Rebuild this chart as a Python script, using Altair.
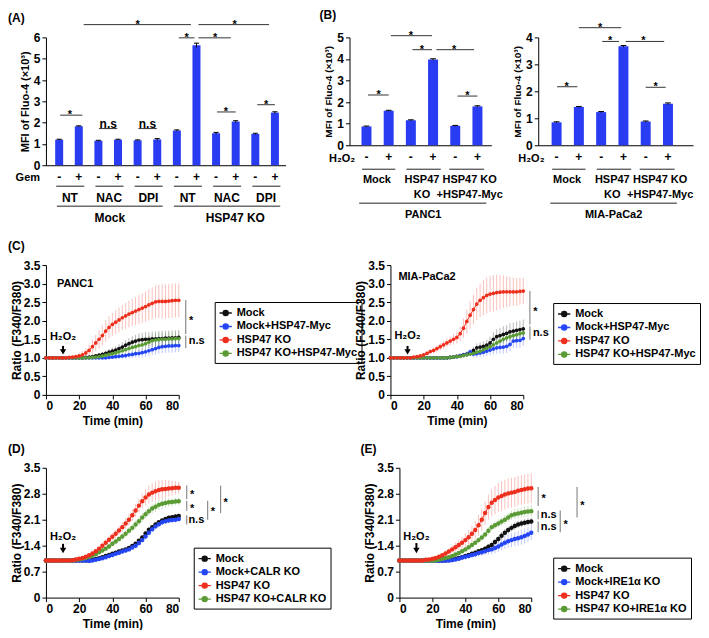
import altair as alt
import pandas as pd

FONT = "Liberation Sans"
BAR_BLUE = "#2a3cf2"
SIG_DARK = "#333333"
SIG_GRAY = "#8c8c8c"
SERIES_COLORS = ["#111111", "#2446f5", "#ee2f1d", "#5a9b35"]
SYM = "M-1,0L1,0M-0.42,0A0.42,0.42,0,1,1,0.42,0A0.42,0.42,0,1,1,-0.42,0Z"

# ------------------------------------------------------------------ data (A)
a_sign = ["-", "+", "-", "+", "-", "+", "-", "+", "-", "+", "-", "+"]
a_mfi = [1.20, 1.83, 1.15, 1.20, 1.17, 1.21, 1.63, 5.63, 1.50, 2.05, 1.47, 2.47]
a_sem = [0.02, 0.02, 0.02, 0.02, 0.02, 0.04, 0.03, 0.10, 0.04, 0.04, 0.03, 0.04]
a_treatment = ["NT", "NAC", "DPI", "NT", "NAC", "DPI"]
a_cell = ["Mock", "HSP47 KO"]

# ------------------------------------------------------------------ data (B)
b_sign = ["-", "+", "-", "+", "-", "+"]
b_group = ["Mock", "HSP47\nKO", "HSP47 KO\n+HSP47-Myc"]
b_panc1 = [0.87, 1.60, 1.16, 3.98, 0.90, 1.80]
b_panc1_sem = [0.02, 0.02, 0.02, 0.03, 0.02, 0.03]
b_mia = [0.85, 1.42, 1.23, 3.67, 0.88, 1.54]
b_mia_sem = [0.02, 0.02, 0.02, 0.03, 0.02, 0.03]

# ------------------------------------------------------------------ time course data
time_min = [0, 2, 4, 6, 8, 10, 12, 14, 16, 18, 20, 22, 24, 26, 28, 30, 32, 34, 36, 38, 40,
            42, 44, 46, 48, 50, 52, 54, 56, 58, 60, 62, 64, 66, 68, 70, 72, 74, 76, 78, 80]

c_names = ["Mock", "Mock+HSP47-Myc", "HSP47 KO", "HSP47 KO+HSP47-Myc"]
d_names = ["Mock", "Mock+CALR KO", "HSP47 KO", "HSP47 KO+CALR KO"]
e_names = ["Mock", "Mock+IRE1α KO", "HSP47 KO", "HSP47 KO+IRE1α KO"]

# (C) PANC1
cp_mock = [1.00, 1.00, 1.00, 1.00, 1.00, 1.00, 1.00, 1.00, 1.00, 1.00, 1.00, 1.00,
           1.01, 1.02, 1.03, 1.05, 1.07, 1.09, 1.12, 1.15, 1.18, 1.21, 1.25, 1.29, 1.34, 1.38, 1.42,
           1.45, 1.48, 1.49, 1.50, 1.50, 1.51, 1.51, 1.52, 1.52, 1.53, 1.53, 1.54, 1.54, 1.55]
cp_myc = [1.00, 1.00, 1.00, 1.00, 1.00, 1.00, 1.00, 1.00, 1.00, 1.00, 1.00, 1.00, 1.00, 1.00,
          1.00, 1.00, 1.00, 1.00,
          1.00, 1.01, 1.02, 1.03, 1.04, 1.05, 1.06, 1.08, 1.09, 1.11, 1.12, 1.14, 1.16, 1.19, 1.22,
          1.25, 1.28, 1.30, 1.31, 1.32, 1.32, 1.33, 1.33]
cp_ko = [1.00, 1.00, 1.00, 1.00, 1.00, 1.00, 1.00,
         1.01, 1.02, 1.03, 1.05, 1.08, 1.13, 1.20, 1.30, 1.40, 1.50, 1.60, 1.72, 1.82, 1.90, 1.96,
         2.02, 2.08, 2.13, 2.18, 2.22, 2.26, 2.30, 2.34, 2.38, 2.43, 2.47, 2.51, 2.52, 2.52, 2.52,
         2.53, 2.54, 2.55, 2.55]
cp_komyc = [1.00, 1.00, 1.00, 1.00, 1.00, 1.00, 1.00, 1.00, 1.00, 1.00, 1.00, 1.00, 1.00, 1.00,
            1.01, 1.02, 1.03, 1.05, 1.07, 1.09, 1.11, 1.13, 1.16, 1.19, 1.22, 1.25, 1.28, 1.30,
            1.33, 1.35, 1.38, 1.42, 1.46, 1.48, 1.49, 1.50, 1.50, 1.51, 1.51, 1.52, 1.52]
cp_mock_sd = [0.01, 0.01, 0.01, 0.01, 0.01, 0.01, 0.01, 0.01, 0.01, 0.01, 0.01, 0.01,
              0.02, 0.03, 0.04, 0.05, 0.06, 0.07, 0.08, 0.09, 0.10, 0.11, 0.12, 0.13, 0.14, 0.15,
              0.16, 0.17, 0.18, 0.18, 0.19, 0.19, 0.20, 0.20, 0.20, 0.20, 0.20, 0.20, 0.20, 0.20, 0.20]
cp_myc_sd = [0.01, 0.01, 0.01, 0.01, 0.01, 0.01, 0.01, 0.01, 0.01, 0.01, 0.01, 0.01, 0.01, 0.01,
             0.01, 0.01, 0.01, 0.01,
             0.02, 0.03, 0.04, 0.05, 0.06, 0.07, 0.08, 0.09, 0.10, 0.11, 0.12, 0.13, 0.14, 0.15,
             0.16, 0.17, 0.17, 0.18, 0.18, 0.18, 0.18, 0.18, 0.18]
cp_ko_sd = [0.01, 0.01, 0.01, 0.01, 0.01, 0.01, 0.01,
            0.02, 0.04, 0.06, 0.08, 0.10, 0.13, 0.16, 0.19, 0.22, 0.25, 0.27, 0.29, 0.30, 0.31,
            0.32, 0.33, 0.34, 0.35, 0.36, 0.37, 0.38, 0.39, 0.40, 0.41, 0.42, 0.43, 0.44, 0.45,
            0.46, 0.46, 0.46, 0.46, 0.46, 0.45]
cp_komyc_sd = [0.01, 0.01, 0.01, 0.01, 0.01, 0.01, 0.01, 0.01, 0.01, 0.01, 0.01, 0.01, 0.01, 0.01,
               0.02, 0.03, 0.04, 0.05, 0.06, 0.07, 0.08, 0.09, 0.10, 0.11, 0.12, 0.13, 0.14, 0.15,
               0.15, 0.16, 0.16, 0.17, 0.17, 0.17, 0.17, 0.17, 0.17, 0.17, 0.17, 0.17, 0.17]

# (C) MIA-PaCa2
cm_mock = [1.00, 1.00, 1.00, 1.00, 1.00, 1.00, 1.00, 1.00, 1.00, 1.00, 1.00, 1.00, 1.00, 1.00,
           1.00, 1.00, 1.00, 1.00,
           1.01, 1.02, 1.04, 1.06, 1.08, 1.10, 1.14, 1.20, 1.27, 1.29, 1.31, 1.34, 1.40, 1.50,
           1.57, 1.60, 1.63, 1.66, 1.70, 1.72, 1.74, 1.76, 1.78]
cm_myc = [1.00, 1.00, 1.00, 1.00, 1.00, 1.00, 1.00, 1.00, 1.00, 1.00, 1.00, 1.00, 1.00, 1.00,
          1.00, 1.00, 1.00, 1.00,
          1.01, 1.02, 1.03, 1.05, 1.07, 1.09, 1.16, 1.10, 1.11, 1.13, 1.15, 1.18, 1.21, 1.24,
          1.27, 1.28, 1.29, 1.31, 1.36, 1.45, 1.46, 1.47, 1.52]
cm_ko = [1.00, 1.00, 1.00, 1.00, 1.00, 1.00, 1.00,
         1.02, 1.03, 1.05, 1.08, 1.12, 1.17, 1.20, 1.25, 1.30, 1.35, 1.40, 1.45, 1.50, 1.55,
         1.65, 1.80, 1.98, 2.15, 2.30, 2.45, 2.55, 2.62, 2.68, 2.72, 2.74, 2.76, 2.77, 2.78,
         2.78, 2.78, 2.78, 2.78, 2.79, 2.80]
cm_komyc = [1.00, 1.00, 1.00, 1.00, 1.00, 1.00, 1.00, 1.00, 1.00, 1.00, 1.00, 1.00, 1.00, 1.00,
            1.00, 1.00, 1.00, 1.00,
            1.01, 1.02, 1.03, 1.04, 1.06, 1.08, 1.10, 1.12, 1.15, 1.18, 1.22, 1.26, 1.30, 1.35,
            1.40, 1.45, 1.50, 1.54, 1.57, 1.60, 1.62, 1.65, 1.67]
cm_mock_sd = [0.01, 0.01, 0.01, 0.01, 0.01, 0.01, 0.01, 0.01, 0.01, 0.01, 0.01, 0.01, 0.01, 0.01,
              0.01, 0.01, 0.01, 0.01,
              0.02, 0.03, 0.04, 0.05, 0.06, 0.07, 0.08, 0.10, 0.12, 0.13, 0.14, 0.15, 0.17, 0.19,
              0.20, 0.21, 0.22, 0.22, 0.23, 0.23, 0.24, 0.24, 0.25]
cm_myc_sd = [0.01, 0.01, 0.01, 0.01, 0.01, 0.01, 0.01, 0.01, 0.01, 0.01, 0.01, 0.01, 0.01, 0.01,
             0.01, 0.01, 0.01, 0.01,
             0.02, 0.03, 0.04, 0.05, 0.06, 0.07, 0.08, 0.09, 0.10, 0.11, 0.12, 0.13, 0.14, 0.15,
             0.16, 0.17, 0.18, 0.18, 0.19, 0.19, 0.20, 0.20, 0.20]
cm_ko_sd = [0.01, 0.01, 0.01, 0.01, 0.01, 0.01, 0.01,
            0.02, 0.03, 0.04, 0.05, 0.06, 0.07, 0.08, 0.09, 0.10, 0.11, 0.12, 0.13, 0.14, 0.16,
            0.20, 0.26, 0.32, 0.37, 0.40, 0.43, 0.45, 0.47, 0.48, 0.49, 0.49, 0.48, 0.46, 0.44,
            0.42, 0.40, 0.38, 0.37, 0.36, 0.35]
cm_komyc_sd = [0.01, 0.01, 0.01, 0.01, 0.01, 0.01, 0.01, 0.01, 0.01, 0.01, 0.01, 0.01, 0.01, 0.01,
               0.01, 0.01, 0.01, 0.01,
               0.02, 0.03, 0.03, 0.04, 0.05, 0.05, 0.06, 0.07, 0.07, 0.08, 0.09, 0.09, 0.10, 0.10,
               0.11, 0.11, 0.12, 0.12, 0.12, 0.12, 0.12, 0.12, 0.12]

# (D)
d_mock = [1.00, 1.00, 1.00, 1.00, 1.00, 1.00, 1.00, 1.00, 1.00, 1.00, 1.00, 1.00, 1.00, 1.00,
          1.02, 1.04, 1.06, 1.09, 1.12, 1.15, 1.18, 1.21, 1.24, 1.27, 1.30, 1.34, 1.39, 1.45,
          1.53, 1.62, 1.73, 1.83, 1.90, 1.97, 2.03, 2.08, 2.12, 2.15, 2.17, 2.19, 2.20]
d_calr = [1.00, 1.00, 1.00, 1.00, 1.00, 1.00, 1.00, 1.00, 1.00, 1.00, 1.00, 1.00, 1.00,
          0.99, 1.00, 1.02, 1.04, 1.06, 1.09, 1.12, 1.15, 1.18, 1.21, 1.24, 1.27, 1.30, 1.35,
          1.40, 1.47, 1.55, 1.65, 1.75, 1.84, 1.92, 1.98, 2.03, 2.06, 2.08, 2.09, 2.10, 2.12]
d_ko = [1.00, 1.00, 1.00, 1.00, 1.00, 1.00, 1.00, 1.00,
        1.01, 1.03, 1.05, 1.07, 1.10, 1.14, 1.19, 1.25, 1.32, 1.40, 1.48, 1.56, 1.64, 1.72,
        1.81, 1.90, 2.00, 2.10, 2.22, 2.35, 2.48, 2.60, 2.70, 2.78, 2.83, 2.87, 2.90, 2.92,
        2.93, 2.94, 2.95, 2.96, 2.96]
d_kocalr = [1.00, 1.00, 1.00, 1.00, 1.00, 1.00, 1.00, 1.00, 1.00,
            1.02, 1.03, 1.05, 1.07, 1.10, 1.13, 1.17, 1.22, 1.27, 1.32, 1.38, 1.45, 1.51, 1.58,
            1.65, 1.72, 1.80, 1.88, 1.97, 2.06, 2.16, 2.25, 2.33, 2.40, 2.45, 2.50, 2.53, 2.55,
            2.57, 2.58, 2.59, 2.60]
d_mock_sd = [0.01, 0.01, 0.01, 0.01, 0.01, 0.01, 0.01, 0.01, 0.01, 0.01, 0.01, 0.01, 0.01, 0.01,
             0.01, 0.01, 0.02, 0.02, 0.02, 0.02, 0.03, 0.03, 0.03, 0.03, 0.03, 0.04, 0.04, 0.04,
             0.04, 0.05, 0.05, 0.05, 0.05, 0.05, 0.06, 0.06, 0.06, 0.06, 0.06, 0.06, 0.06]
d_calr_sd = [0.01, 0.01, 0.01, 0.01, 0.01, 0.01, 0.01, 0.01, 0.01, 0.01, 0.01, 0.01, 0.01,
             0.02, 0.02, 0.03, 0.03, 0.04, 0.04, 0.04, 0.05, 0.05, 0.05, 0.05, 0.06, 0.06, 0.06,
             0.07, 0.07, 0.07, 0.08, 0.08, 0.08, 0.08, 0.08, 0.08, 0.08, 0.08, 0.08, 0.08, 0.08]
d_ko_sd = [0.01, 0.01, 0.01, 0.01, 0.01, 0.01, 0.01, 0.01,
           0.02, 0.02, 0.03, 0.03, 0.04, 0.04, 0.05, 0.05, 0.06, 0.07, 0.08, 0.09, 0.10, 0.11,
           0.12, 0.13, 0.14, 0.15, 0.16, 0.17, 0.18, 0.20, 0.22, 0.24, 0.25, 0.26, 0.26, 0.25,
           0.24, 0.22, 0.20, 0.18, 0.16]
d_kocalr_sd = [0.01, 0.01, 0.01, 0.01, 0.01, 0.01, 0.01, 0.01, 0.01,
               0.02, 0.02, 0.03, 0.03, 0.04, 0.04, 0.05, 0.05, 0.06, 0.06, 0.07, 0.07, 0.08, 0.08,
               0.09, 0.09, 0.10, 0.10, 0.11, 0.11, 0.12, 0.12, 0.13, 0.13, 0.14, 0.14, 0.14, 0.13,
               0.12, 0.11, 0.10, 0.10]

# (E)
e_mock = [1.00, 1.00, 1.00, 1.00, 1.00, 1.00, 1.00, 1.00, 1.00, 1.00, 1.00, 1.00, 1.00, 1.00, 1.00,
          1.01, 1.03, 1.05, 1.07, 1.09, 1.12, 1.15, 1.18, 1.21, 1.25, 1.28, 1.32, 1.37, 1.42,
          1.50, 1.58, 1.67, 1.75, 1.82, 1.88, 1.93, 1.97, 2.00, 2.02, 2.04, 2.05]
e_ire = [1.00, 1.00, 1.00, 1.00, 1.00, 1.00, 1.00, 1.00, 1.00, 1.00, 1.00, 1.00,
         0.99, 0.99, 1.00, 1.00, 1.01, 1.03, 1.05, 1.08, 1.10, 1.12, 1.15, 1.17, 1.20, 1.22,
         1.25, 1.28, 1.30, 1.34, 1.38, 1.43, 1.48, 1.52, 1.55, 1.58, 1.60, 1.63, 1.66, 1.70, 1.75]
e_ko = [1.00, 1.00, 1.00, 1.00, 1.00, 1.00, 1.00, 1.00,
        1.02, 1.03, 1.05, 1.07, 1.10, 1.14, 1.19, 1.24, 1.30, 1.36, 1.42, 1.48, 1.55, 1.63,
        1.72, 1.82, 1.95, 2.10, 2.28, 2.44, 2.56, 2.63, 2.70, 2.74, 2.78, 2.81, 2.83, 2.85,
        2.88, 2.90, 2.92, 2.94, 2.95]
e_koire = [1.00, 1.00, 1.00, 1.00, 1.00, 1.00, 1.00, 1.00, 1.00, 1.00, 1.00, 1.00,
           1.02, 1.04, 1.07, 1.09, 1.12, 1.16, 1.20, 1.25, 1.30, 1.36, 1.42, 1.48, 1.55, 1.62,
           1.70, 1.80, 1.90, 1.95, 2.00, 2.05, 2.10, 2.16, 2.22, 2.25, 2.27, 2.29, 2.31, 2.32, 2.33]
e_mock_sd = [0.01, 0.01, 0.01, 0.01, 0.01, 0.01, 0.01, 0.01, 0.01, 0.01, 0.01, 0.01, 0.01, 0.01,
             0.01, 0.02, 0.02, 0.03, 0.03, 0.04, 0.04, 0.05, 0.05, 0.06, 0.06, 0.07, 0.07, 0.08,
             0.08, 0.09, 0.09, 0.10, 0.10, 0.10, 0.10, 0.10, 0.10, 0.10, 0.10, 0.10, 0.10]
e_ire_sd = [0.01, 0.01, 0.01, 0.01, 0.01, 0.01, 0.01, 0.01, 0.01, 0.01, 0.01, 0.01,
            0.02, 0.03, 0.04, 0.05, 0.06, 0.06, 0.07, 0.07, 0.08, 0.08, 0.09, 0.09, 0.10, 0.10,
            0.11, 0.12, 0.13, 0.14, 0.15, 0.16, 0.17, 0.18, 0.19, 0.19, 0.20, 0.20, 0.20, 0.20, 0.20]
e_ko_sd = [0.01, 0.01, 0.01, 0.01, 0.01, 0.01, 0.01, 0.01,
           0.02, 0.03, 0.04, 0.05, 0.06, 0.07, 0.08, 0.09, 0.10, 0.12, 0.14, 0.16, 0.18, 0.20,
           0.22, 0.25, 0.28, 0.30, 0.32, 0.34, 0.36, 0.38, 0.39, 0.40, 0.40, 0.40, 0.40, 0.40,
           0.40, 0.40, 0.40, 0.40, 0.40]
e_koire_sd = [0.01, 0.01, 0.01, 0.01, 0.01, 0.01, 0.01, 0.01, 0.01, 0.01, 0.01, 0.01,
              0.02, 0.02, 0.03, 0.03, 0.04, 0.04, 0.05, 0.05, 0.06, 0.06, 0.07, 0.07, 0.08, 0.08,
              0.09, 0.09, 0.10, 0.10, 0.11, 0.11, 0.12, 0.12, 0.13, 0.13, 0.14, 0.14, 0.15, 0.15, 0.15]

# ------------------------------------------------------------------ annotation specs
a_pairs = [(2 * k - 0.15, 2 * k + 1.28) for k in range(6)]
a_group_x = [2 * k + 0.55 for k in range(6)]
a_longs = [(-0.12, 5.28), (5.85, 11.27)]
a_long_x = [2.58, 8.98]
a_sig = [(0.05, 1.18, 2.35, "*", 0.55), (2.03, 2.96, 1.72, "n.s", 2.5),
         (4.04, 4.98, 1.72, "n.s", 4.5), (6.10, 6.90, 5.98, "*", 6.5),
         (7.10, 8.75, 5.98, "*", 7.95), (8.05, 9.00, 2.50, "*", 8.5),
         (10.10, 11.00, 2.84, "*", 10.55), (1.25, 6.72, 6.60, "*", 4.0),
         (7.10, 10.70, 6.60, "*", 8.95)]
b_pairs = [(-0.2, 1.3), (1.8, 3.35), (3.73, 5.3)]
b_group_x = [0.47, 2.5, 4.65]
bl_sig = [(0.07, 1.00, 2.33, "*", 0.55), (2.07, 2.95, 4.43, "*", 2.5),
          (1.10, 2.95, 5.08, "*", 2.0), (3.15, 4.85, 4.43, "*", 3.95),
          (4.10, 5.00, 2.28, "*", 4.55)]
br_sig = [(0.02, 0.93, 2.17, "*", 0.45), (2.05, 2.80, 3.85, "*", 2.4),
          (1.00, 2.90, 4.36, "*", 1.95), (3.10, 4.83, 3.85, "*", 3.9),
          (4.00, 4.90, 2.15, "*", 4.45)]


def txt(df, size=12, weight="bold", align="center", baseline="middle", dy=0, color="black",
        line_height=None):
    kw = dict(font=FONT, fontSize=size, fontWeight=weight, align=align, baseline=baseline,
              color=color, lineBreak="\n")
    if dy:
        kw["dy"] = dy
    if line_height:
        kw["lineHeight"] = line_height
    return alt.Chart(df).mark_text(**kw).encode(x="x:Q", y="y:Q", text="t:N")


def hrules(df, color, width=1):
    return alt.Chart(df).mark_rule(color=color, strokeWidth=width).encode(
        x="x0:Q", x2="x1:Q", y="y:Q")


def vrules(df, color, width=1):
    return alt.Chart(df).mark_rule(color=color, strokeWidth=width).encode(
        x="x:Q", y="y0:Q", y2="y1:Q")


def title_params(text, dx, off):
    return alt.TitleParams(text=text, anchor="start", frame="group", dx=dx, offset=off,
                           fontSize=12, fontWeight="bold", font=FONT, color="black")


def bar_panel(vals, sems, signs, side_text, side_x, xdom, ymax, width, height, ytitle, bar_w,
              pairs, grp_text, grp_x, longs, long_text, long_x, sig, offs, label_size, ytitle_size,
              side_dy=0, title=None, title_dx=0, title_off=0):
    k = height / ymax

    def below(p):
        return -p / k

    n = len(vals)
    idx = list(range(n))
    bars = pd.DataFrame({"x": idx, "v": vals, "e": sems})
    bars["lo"] = bars["v"] - bars["e"]
    bars["hi"] = bars["v"] + bars["e"]
    bars["c0"] = bars["x"] - 0.13
    bars["c1"] = bars["x"] + 0.13
    xs = alt.Scale(domain=xdom, nice=False, zero=False)
    ys = alt.Scale(domain=[0, ymax], nice=False, zero=True)
    yvals = list(range(ymax + 1))
    layers = [
        alt.Chart(bars).mark_bar(size=bar_w, color=BAR_BLUE).encode(
            x=alt.X("x:Q", scale=xs, axis=alt.Axis(labels=False, ticks=False, title=None, grid=False)),
            y=alt.Y("v:Q", scale=ys, axis=alt.Axis(values=yvals, tickCount=len(yvals), format="d",
                                                   labelOverlap=False, title=ytitle,
                                                   titleFontSize=ytitle_size, titlePadding=3))),
        alt.Chart(bars).mark_rule(color="black", strokeWidth=1).encode(
            x="x:Q", y="lo:Q", y2="hi:Q"),
        alt.Chart(bars).mark_rule(color="black", strokeWidth=1).encode(
            x="c0:Q", x2="c1:Q", y="hi:Q"),
    ]
    layers.append(txt(pd.DataFrame({"x": idx, "y": [below(offs[0])] * n, "t": signs}), size=12))
    layers.append(txt(pd.DataFrame({"x": [side_x], "y": [below(offs[0])], "t": [side_text]}), size=11,
                      dy=side_dy))
    layers.append(hrules(pd.DataFrame({"x0": [p[0] for p in pairs], "x1": [p[1] for p in pairs],
                                       "y": [below(offs[1])] * len(pairs)}), "#222222"))
    layers.append(txt(pd.DataFrame({"x": grp_x, "y": [below(offs[2])] * len(grp_x), "t": grp_text}),
                      size=label_size, baseline="top", line_height=15))
    layers.append(hrules(pd.DataFrame({"x0": [p[0] for p in longs], "x1": [p[1] for p in longs],
                                       "y": [below(offs[3])] * len(longs)}), "#222222"))
    layers.append(txt(pd.DataFrame({"x": long_x, "y": [below(offs[4])] * len(long_x), "t": long_text}),
                      size=label_size, baseline="top"))
    layers.append(hrules(pd.DataFrame({"x0": [s[0] for s in sig], "x1": [s[1] for s in sig],
                                       "y": [s[2] for s in sig]}), SIG_DARK))
    stars = [s for s in sig if s[3] == "*"]
    ns = [s for s in sig if s[3] != "*"]
    layers.append(txt(pd.DataFrame({"x": [s[4] for s in stars], "y": [s[2] for s in stars],
                                    "t": [s[3] for s in stars]}), size=11, baseline="alphabetic", dy=3))
    if ns:
        layers.append(txt(pd.DataFrame({"x": [s[4] for s in ns], "y": [s[2] for s in ns],
                                        "t": [s[3] for s in ns]}), size=12, baseline="alphabetic", dy=-1))
    props = dict(width=width, height=height)
    if title:
        props["title"] = title_params(title, title_dx, title_off)
    return alt.layer(*layers).properties(**props)


def line_panel(names, vals, sds, yticks, width, height, legend_xy, cell, h2o2_y, arrow_ys,
               vbars, vlabels, dot, title=None, title_dx=0, title_off=0):
    order = {names[0]: 0, names[1]: 1, names[3]: 2, names[2]: 3}
    rows = []
    for nm, vv, ss in zip(names, vals, sds):
        assert len(vv) == len(time_min) and len(ss) == len(time_min), (nm, len(vv), len(ss))
        for t, v, s in zip(time_min, vv, ss):
            rows.append(dict(t=t, r=v, lo=v - s, hi=v + s, g=nm, o=order[nm]))
    df = pd.DataFrame(rows).sort_values(["o", "t"])
    xs = alt.Scale(domain=[0, 80], nice=False, zero=False)
    ys = alt.Scale(domain=[0, 3.5], nice=False, zero=True)
    cs = alt.Scale(domain=names, range=SERIES_COLORS)
    leg = alt.Legend(orient="none", legendX=legend_xy[0], legendY=legend_xy[1], title=None,
                     direction="vertical", strokeColor="black", fillColor="white", padding=4,
                     cornerRadius=0, labelFont=FONT, labelFontSize=11, labelFontWeight="bold",
                     labelColor="black", symbolType=SYM, symbolSize=150, symbolStrokeWidth=1.3,
                     symbolOpacity=1, rowPadding=0.5, labelOffset=4, labelLimit=400)
    xvals = [0, 20, 40, 60, 80]
    xaxis = alt.Axis(values=xvals, tickCount=len(xvals), format="d", title="Time (min)",
                     titlePadding=4, labelOverlap=False)
    yaxis = alt.Axis(values=yticks, tickCount=len(yticks), title="Ratio (F340/F380)", titlePadding=0,
                     labelOverlap=False,
                     labelExpr="datum.value == 0 ? '0' : format(datum.value, '.1f')")
    base = alt.Chart(df)
    layers = [
        base.mark_rule(strokeWidth=1, opacity=0.3).encode(
            x=alt.X("t:Q", scale=xs, axis=xaxis), y=alt.Y("lo:Q", scale=ys, axis=yaxis), y2="hi:Q",
            stroke=alt.Stroke("g:N", scale=cs, legend=leg)),
        base.mark_line(strokeWidth=1).encode(
            x="t:Q", y="r:Q", stroke=alt.Stroke("g:N", scale=cs, legend=leg)),
        base.mark_point(filled=True, size=dot, opacity=1, strokeWidth=0).encode(
            x="t:Q", y="r:Q", fill=alt.Fill("g:N", scale=cs, legend=leg)),
    ]
    if cell:
        layers.append(txt(pd.DataFrame({"x": [cell[1]], "y": [cell[2]], "t": [cell[0]]}),
                          size=11, align="left"))
    layers.append(txt(pd.DataFrame({"x": [10.3], "y": [h2o2_y], "t": ["H₂O₂"]}), size=11))
    layers.append(vrules(pd.DataFrame({"x": [10.3], "y0": [arrow_ys[0]], "y1": [arrow_ys[1] + 0.12]}),
                         "black", 2))
    layers.append(alt.Chart(pd.DataFrame({"x": [10.3], "y": [arrow_ys[1] + 0.09]})).mark_point(
        shape="triangle-down", filled=True, color="black", size=40, opacity=1).encode(
        x="x:Q", y="y:Q"))
    layers.append(vrules(pd.DataFrame({"x": [b[0] for b in vbars], "y0": [b[1] for b in vbars],
                                       "y1": [b[2] for b in vbars]}), SIG_GRAY, 1.2))
    stars = [v for v in vlabels if v[2] == "*"]
    ns = [v for v in vlabels if v[2] != "*"]
    layers.append(txt(pd.DataFrame({"x": [v[0] for v in stars], "y": [v[1] for v in stars],
                                    "t": [v[2] for v in stars]}), size=11, align="left",
                      baseline="alphabetic", dy=6))
    if ns:
        layers.append(txt(pd.DataFrame({"x": [v[0] for v in ns], "y": [v[1] for v in ns],
                                        "t": [v[2] for v in ns]}), size=11, align="left"))
    props = dict(width=width, height=height)
    if title:
        props["title"] = title_params(title, title_dx, title_off)
    return alt.layer(*layers).properties(**props)


# ------------------------------------------------------------------ panels
A_OFFS = (12, 21, 28, 41, 48)
B_OFFS = (11.7, 24, 29, 58, 64)
MFI = "MFI of Fluo-4 (×10³)"
C_TICKS = [0, 0.5, 1.0, 1.5, 2.0, 2.5, 3.0, 3.5]
D_TICKS = [0, 0.7, 1.4, 2.1, 2.8, 3.5]
LH = 130
LT_OFF = 6

panel_a = bar_panel(a_mfi, a_sem, a_sign, "Gem", -1.6, [-0.42, 11.29], 6, 240, 128, MFI, 8,
                    a_pairs, a_treatment, a_group_x, a_longs, a_cell, a_long_x, a_sig, A_OFFS, 12, 11,
                    side_dy=1, title="(A)", title_dx=-38, title_off=-6)
panel_bl = bar_panel(b_panc1, b_panc1_sem, b_sign, "H₂O₂", -1.1, [-0.54, 5.4], 5, 142, 108, MFI, 10,
                     b_pairs, b_group, b_group_x, [(-0.33, 5.4)], ["PANC1"], [2.56], bl_sig, B_OFFS,
                     11, 10, side_dy=2, title="(B)", title_dx=-30, title_off=8)
panel_br = bar_panel(b_mia, b_mia_sem, b_sign, "H₂O₂", -1.13, [-0.6, 5.9], 4, 155, 108, MFI, 10,
                     b_pairs, b_group, b_group_x, [(-0.28, 5.4)], ["MIA-PaCa2"], [2.56], br_sig, B_OFFS,
                     11, 10, side_dy=2)

panel_cl = line_panel(c_names, [cp_mock, cp_myc, cp_ko, cp_komyc],
                      [cp_mock_sd, cp_myc_sd, cp_ko_sd, cp_komyc_sd], C_TICKS, 133, LH, (169, 37),
                      ("PANC1", 6.6, 3.0), 1.55, (1.32, 1.07),
                      [(84.2, 2.56, 1.64), (84.2, 1.60, 1.26)],
                      [(86.2, 2.08, "*"), (86.0, 1.44, "n.s")], 14,
                      title="(C)", title_dx=-38, title_off=LT_OFF)
panel_cr = line_panel(c_names, [cm_mock, cm_myc, cm_ko, cm_komyc],
                      [cm_mock_sd, cm_myc_sd, cm_ko_sd, cm_komyc_sd], C_TICKS, 133, LH, (163, 38),
                      ("MIA-PaCa2", 4.8, 3.18), 1.58, (1.32, 1.07),
                      [(84.0, 2.80, 1.90), (84.0, 1.85, 1.49)],
                      [(86.0, 2.32, "*"), (85.8, 1.67, "n.s")], 14)
panel_d = line_panel(d_names, [d_mock, d_calr, d_ko, d_kocalr],
                     [d_mock_sd, d_calr_sd, d_ko_sd, d_kocalr_sd], D_TICKS, 133, LH, (148, 80),
                     None, 1.63, (1.45, 1.18),
                     [(84.8, 3.02, 2.66), (84.8, 2.61, 2.34), (84.8, 2.22, 1.97),
                      (97.4, 2.61, 2.10), (105.2, 3.02, 2.28)],
                     [(86.8, 2.84, "*"), (86.8, 2.47, "*"), (85.8, 2.08, "n.s"),
                      (99.2, 2.39, "*"), (107.0, 2.62, "*")], 20,
                     title="(D)", title_dx=-38, title_off=LT_OFF)
panel_e = line_panel(e_names, [e_mock, e_ire, e_ko, e_koire],
                     [e_mock_sd, e_ire_sd, e_ko_sd, e_koire_sd], D_TICKS, 132, LH, (154, 90),
                     None, 1.63, (1.47, 1.18),
                     [(84.2, 2.98, 2.47), (84.2, 2.35, 2.11), (84.2, 2.05, 1.76),
                      (97.6, 2.35, 1.76), (107.8, 2.98, 2.16)],
                     [(86.2, 2.75, "*"), (85.8, 2.23, "n.s"), (85.8, 1.90, "n.s"),
                      (99.6, 2.03, "*"), (109.8, 2.56, "*")], 20,
                     title="(E)", title_dx=-39, title_off=LT_OFF)

row1 = alt.hconcat(panel_a, alt.hconcat(panel_bl, panel_br, spacing=47, bounds="flush"), spacing=34)
row2 = alt.hconcat(panel_cl, panel_cr, spacing=212, bounds="flush").resolve_scale(
    stroke="independent", fill="independent")
row3 = alt.hconcat(panel_d, panel_e, spacing=221, bounds="flush").resolve_scale(
    stroke="independent", fill="independent")

chart = alt.vconcat(row1, row2, row3, spacing=16).resolve_scale(
    stroke="independent", fill="independent"
).properties(padding=0).configure_view(stroke=None).configure_axis(
    labelFont=FONT, titleFont=FONT, labelFontSize=12, titleFontSize=12, labelFontWeight="bold",
    titleFontWeight="bold", labelColor="black", titleColor="black", domainColor="black",
    tickColor="black", grid=False, tickSize=4, labelPadding=2, labelOverlap=False
)

chart.save("out.html", embed_options={"renderer": "svg", "actions": False})
